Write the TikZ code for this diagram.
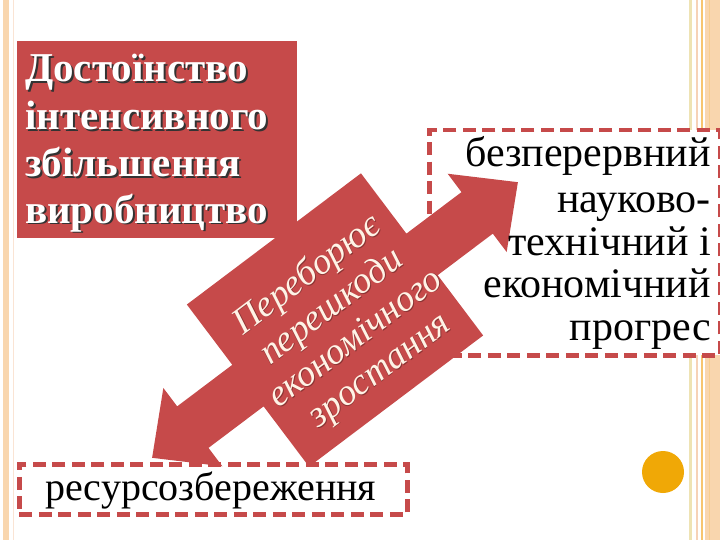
\documentclass[tikz,border=0pt]{standalone}
\usepackage{fontspec}
\setmainfont{Liberation Serif}
\definecolor{myred}{HTML}{C64A4A}
\definecolor{cream}{HTML}{FFF3E6}
\definecolor{peach}{HTML}{F9D6AE}
\definecolor{paleyel}{HTML}{EEE3B4}
\definecolor{goldline}{HTML}{F7C56E}
\definecolor{pinkline}{HTML}{F6D2B8}
\definecolor{dotorange}{HTML}{F0A806}
\begin{document}
\begin{tikzpicture}[x=1pt,y=-1pt,
  redfill/.style={fill=myred, draw=none},
  dashbox/.style={draw=myred, line width=4.5pt, dash pattern=on 13pt off 6.5pt, fill=white},
  titletxt/.style={anchor=base west, inner sep=0, font=\fontsize{41}{47}\selectfont\bfseries},
  boxtxt/.style={anchor=base east, inner sep=0, font=\fontsize{42}{43}\selectfont, text=black},
  arrtxt/.style={rotate=37, align=center, inner sep=0, font=\fontsize{37}{40}\selectfont\itshape},
]
\useasboundingbox (0,0) rectangle (720,540);
\fill[white] (0,0) rectangle (720,540);
% slide frame
\fill[peach] (3,0) rectangle (9,540);
\draw[pinkline!60, line width=1pt] (13.5,0) -- (13.5,540);
\draw[paleyel, line width=3pt] (690,0) -- (690,540);
\draw[pinkline, line width=1.5pt] (697,0) -- (697,540);
\draw[goldline, line width=2pt] (702,0) -- (702,540);
\fill[peach] (705,0) rectangle (720,540);
\draw[goldline!50!peach, line width=1pt] (709,0) -- (709,540);

% boxes
\node[dashbox, anchor=north west, minimum width=291pt, minimum height=225pt, inner sep=0] (prog) at (427,128) {};
\node[dashbox, anchor=north west, minimum width=388pt, minimum height=50pt, inner sep=0] (res) at (17,462) {};
\node[redfill, anchor=north west, minimum width=280pt, minimum height=197pt, inner sep=0] (titlebox) at (17,41) {};

% double arrow with central block
\begin{scope}[shift={(335,320)}, rotate=37]
\fill[myred] (229,0) -- (178,-49) -- (178,-26) -- (109,-26) -- (109,-101.5)
  -- (-109,-101.5) -- (-109,-26) -- (-178,-26) -- (-178,-49) -- (-229,0)
  -- (-178,49) -- (-178,26) -- (-109,26) -- (-109,101.5) -- (109,101.5)
  -- (109,26) -- (178,26) -- (178,49) -- cycle;
\end{scope}

% title text with shadow
\foreach \t/\y [count=\i] in {Достоїнство/82, інтенсивного/130, збільшення/177, виробництво/223}{
  \node[titletxt, text=black!80] (ts\i) at (27,\y+2) {\t};
  \node[titletxt, text=white] (t\i) at (25,\y) {\t};
}

% arrow text
\node[arrtxt, text=myred!70!black] (arrs) at (344.8,323.8)
  {Переборює\\перешкоди\\економічного\\зростання};
\node[arrtxt, text=cream] (arr) at (344,323)
  {Переборює\\перешкоди\\економічного\\зростання};

% right box text
\node[boxtxt] (p1) at (711,167) {безперервний};
\node[boxtxt] (p2) at (711,212) {науково-};
\node[boxtxt] (p3) at (711,255) {технічний і};
\node[boxtxt] (p4) at (711,297) {економічний};
\node[boxtxt] (p5) at (711,340) {прогрес};

% bottom box text
\node[anchor=base west, inner sep=0, font=\fontsize{40}{43}\selectfont] (rt) at (45,500) {ресурсозбереження};

% orange dot
\node[circle, fill=dotorange, minimum size=42pt, inner sep=0] (dot) at (663,472) {};
\end{tikzpicture}
\end{document}
